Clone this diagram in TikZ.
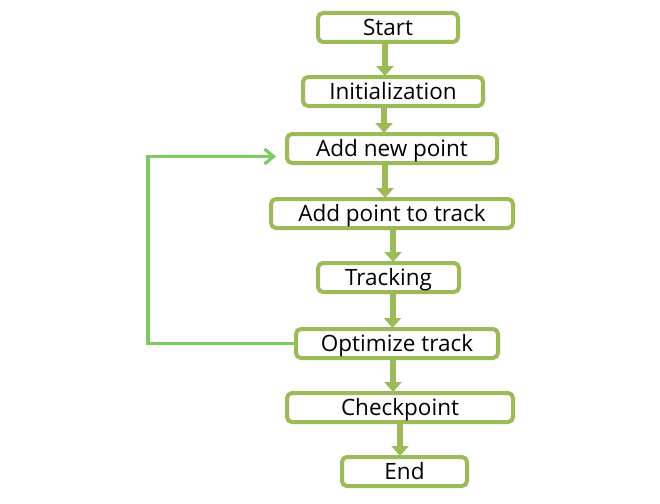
\documentclass[tikz,border=0pt]{standalone}
\usepackage{fontspec}
\setmainfont{Open Sans}
\usetikzlibrary{arrows.meta}
\definecolor{boxgreen}{HTML}{9BBB59}
\definecolor{loopgreen}{HTML}{7CCB5E}
\tikzset{
  box/.style={draw=boxgreen, line width=4pt, rounded corners=5pt, fill=white,
    minimum height=29pt, inner sep=0pt, text height=15.4pt, text depth=0pt,
    font=\fontsize{22.5}{25}\selectfont, text=black},
  blk/.style={draw=boxgreen, line width=6pt, -{Triangle[width=17pt,length=10pt]}, shorten >=-1pt},
  fb/.style={draw=loopgreen, line width=3.2pt, -{Straight Barb[width=15pt,length=9pt]}, line join=miter}
}
\begin{document}
\begin{tikzpicture}[x=1pt,y=-1pt]
\useasboundingbox (0,0) rectangle (660,503);
\node[box, minimum width=140pt] (s) at (388,27.5) {Start};
\node[box, minimum width=180pt] (i) at (393,91.5) {Initialization};
\node[box, minimum width=210pt] (n) at (392,148.5) {Add new point};
\node[box, minimum width=242pt] (p) at (392,213.5) {Add point to track};
\node[box, minimum width=141pt] (t) at (388.5,277.5) {Tracking};
\node[box, minimum width=202pt] (o) at (397,343.5) {Optimize track};
\node[box, minimum width=226pt] (c) at (400,407.5) {Checkpoint};
\node[box, minimum width=125pt] (e) at (404.5,471.5) {End};
\coordinate (fbx) at (148,0);
\draw[blk] ([xshift=-3pt]s.south) -- ([xshift=-3pt]s.south |- i.north);
\draw[blk] ([xshift=-9pt]i.south) -- ([xshift=-9pt]i.south |- n.north);
\draw[blk] ([xshift=-7pt]n.south) -- ([xshift=-7pt]n.south |- p.north);
\draw[blk] ([xshift=1pt]p.south) -- ([xshift=1pt]p.south |- t.north);
\draw[blk] ([xshift=4pt]t.south) -- ([xshift=4pt]t.south |- o.north);
\draw[blk] ([xshift=-4pt]o.south) -- ([xshift=-4pt]o.south |- c.north);
\draw[blk] ([xshift=0pt]c.south) -- ([xshift=0pt]c.south |- e.north);
\draw[fb] (o.west) -- (o.west -| fbx) |- ([xshift=-9pt,yshift=-8pt]n.west);
\end{tikzpicture}
\end{document}
